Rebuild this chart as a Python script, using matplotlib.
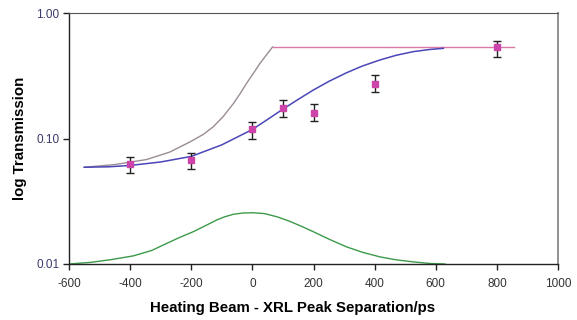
import matplotlib
matplotlib.use("Agg")
import matplotlib.pyplot as plt

# Measured data points with error bars
sep_ps = [-400, -200, 0, 100, 200, 400, 800]
trans = [0.0626, 0.0674, 0.1197, 0.176, 0.160, 0.270, 0.539]
err_hi = [0.0712, 0.0767, 0.135, 0.203, 0.187, 0.319, 0.598]
err_lo = [0.0531, 0.0568, 0.0986, 0.1475, 0.1387, 0.2335, 0.449]

# Upper (pink/grey) model curve
pink_x = [-550, -450, -346, -270, -204, -160, -128, -95, -62, -40, -19, 3, 25, 45, 66, 200, 400, 600, 855]
pink_y = [0.059, 0.062, 0.068, 0.078, 0.094, 0.108, 0.124, 0.150, 0.190, 0.228, 0.275, 0.330, 0.397, 0.460, 0.536, 0.536, 0.536, 0.536, 0.536]

# Blue fitted curve
blue_x = [-550, -470, -400, -300, -200, -100, 0, 50, 101, 150, 199, 250, 308, 360, 417, 470, 526, 580, 625]
blue_y = [0.059, 0.0595, 0.061, 0.065, 0.072, 0.089, 0.118, 0.142, 0.172, 0.205, 0.243, 0.285, 0.334, 0.378, 0.422, 0.460, 0.492, 0.512, 0.523]

# Green pulse profile
green_x = [-600, -530, -466, -390, -330, -280, -240, -193, -150, -117, -90, -62, -30, 3, 40, 80, 120, 160, 199, 250, 308, 360, 417, 470, 526, 580, 630]
green_y = [0.0100, 0.0103, 0.0108, 0.0116, 0.0128, 0.0146, 0.0162, 0.0181, 0.0204, 0.0224, 0.0238, 0.0249, 0.0255, 0.0256, 0.0252, 0.0238, 0.0220, 0.0200, 0.0181, 0.0158, 0.0137, 0.0124, 0.0114, 0.0108, 0.0104, 0.0101, 0.0100]

x_ticks = [-600, -400, -200, 0, 200, 400, 600, 800, 1000]
y_ticks = [0.01, 0.10, 1.00]
y_tick_labels = ["0.01", "0.10", "1.00"]

plt.rcParams['font.family'] = ['Liberation Sans', 'DejaVu Sans']

fig = plt.figure(figsize=(5.77, 3.20), dpi=100)
ax = fig.add_axes([69/577, 1 - 264/320, (558 - 69)/577, (264 - 13)/320])

ax.plot(green_x, green_y, color='#3c9a4a', lw=1.0)
ax.plot(pink_x[:15], pink_y[:15], color='#9a8c96', lw=1.0)
ax.plot(pink_x[14:], pink_y[14:], color='#d77aa8', lw=1.0)
ax.plot(blue_x, blue_y, color='#4a46b8', lw=1.1)

yerr = [[t - l for t, l in zip(trans, err_lo)], [h - t for t, h in zip(trans, err_hi)]]
ax.errorbar(sep_ps, trans, yerr=yerr, fmt='s', color='#cc44aa', ms=3.8,
            mec='#cc44aa', ecolor='#222222', elinewidth=1.0, capsize=2.6, capthick=1.0, zorder=5)

ax.set_yscale('log')
ax.set_xlim(-600, 1000)
ax.set_ylim(0.01, 1.0)
ax.set_xticks(x_ticks)
ax.set_xticklabels([str(v) for v in x_ticks], fontsize=8.5, color='#333333')
ax.set_yticks(y_ticks)
ax.set_yticklabels(y_tick_labels, fontsize=8.5, color='#3a3a6a')
ax.yaxis.set_minor_locator(matplotlib.ticker.NullLocator())
ax.tick_params(axis='both', direction='out', length=4, width=1.0, color='#222222')
ax.tick_params(axis='x', pad=6)
ax.tick_params(axis='y', pad=3)

for s in ['left', 'bottom']:
    ax.spines[s].set_color('#222222')
    ax.spines[s].set_linewidth(1.0)
ax.spines['top'].set_color('#555555')
ax.spines['right'].set_color('#888888')
ax.spines['right'].set_linewidth(1.3)

fig.text(293/577, 1 - 308/320, 'Heating Beam - XRL Peak Separation/ps', fontsize=10.8,
         fontweight='bold', ha='center', va='center')
fig.text(20/577, 1 - 138.5/320, 'log Transmission', fontsize=10.8, fontweight='bold',
         rotation=90, ha='center', va='center')

fig.savefig('out.png', dpi=100)
